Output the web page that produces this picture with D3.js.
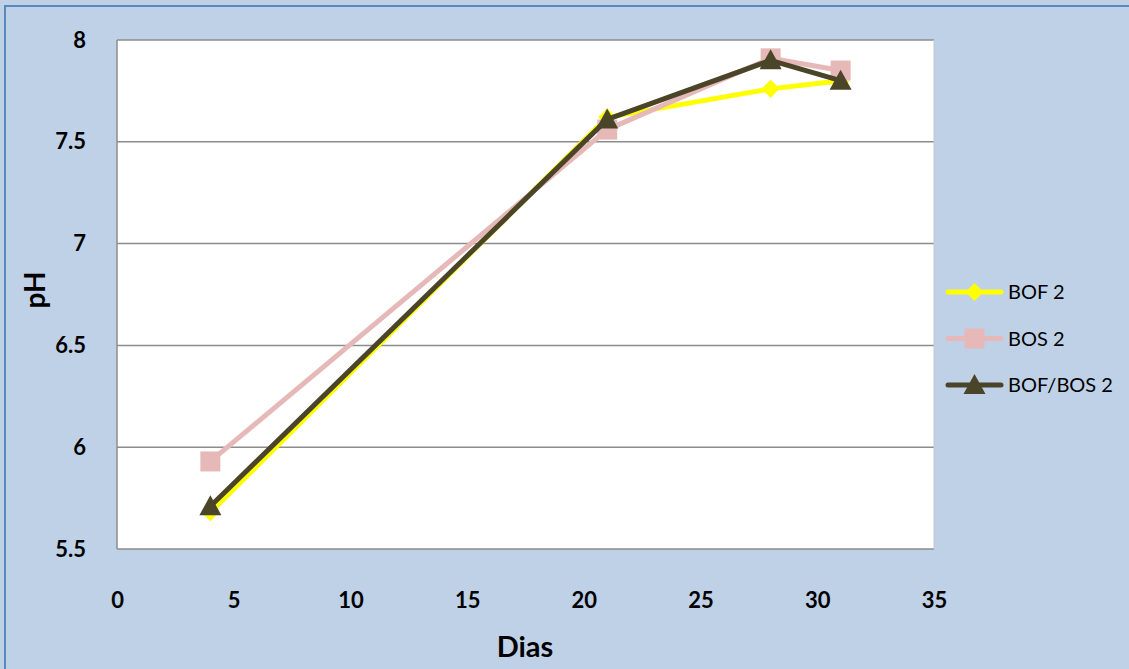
<!DOCTYPE html>
<html>
<head>
<meta charset="utf-8">
<script src="https://cdn.jsdelivr.net/npm/d3@7/dist/d3.min.js"></script>
<style>
  html, body { margin: 0; padding: 0; background: #fff; }
  svg { display: block; }
  text { font-family: Lato, "Open Sans", "Liberation Sans", sans-serif; }
</style>
</head>
<body>
<svg id="chart" width="1129" height="669"></svg>
<script>
// Sampling days and measured pH per series
const days = [4, 21, 28, 31];
const bof2 = [5.68, 7.62, 7.76, 7.80];
const bos2 = [5.93, 7.56, 7.91, 7.85];
const bofBos2 = [5.71, 7.61, 7.90, 7.80];
const seriesNames = ["BOF 2", "BOS 2", "BOF/BOS 2"];
const xTicks = [0, 5, 10, 15, 20, 25, 30, 35];
const yTicks = [5.5, 6, 6.5, 7, 7.5, 8];

const series = [
  { name: seriesNames[0], values: bof2, color: "#FFFF00", marker: "diamond" },
  { name: seriesNames[1], values: bos2, color: "#E6B9B8", marker: "square" },
  { name: seriesNames[2], values: bofBos2, color: "#4A4429", marker: "triangle" }
];

const svg = d3.select("#chart");
const W = 1129, H = 669;
const plot = { left: 117, top: 40, right: 934, bottom: 549 };

// Chart background and outer frame
svg.append("rect").attr("x", 0).attr("y", 0).attr("width", W).attr("height", H).attr("fill", "#BFD1E6");
svg.append("rect").attr("x", 5).attr("y", 6).attr("width", W + 20).attr("height", H + 20)
  .attr("fill", "none").attr("stroke", "#5B87C2").attr("stroke-width", 2);

const x = d3.scaleLinear().domain([0, 35]).range([plot.left, plot.right]);
const y = d3.scaleLinear().domain([5.5, 8]).range([plot.bottom, plot.top]);

// Plot area
svg.append("rect").attr("x", plot.left).attr("y", plot.top)
  .attr("width", plot.right - plot.left).attr("height", plot.bottom - plot.top)
  .attr("fill", "#fff");

// Horizontal gridlines
svg.append("g").selectAll("line").data(yTicks).join("line")
  .attr("x1", plot.left).attr("x2", plot.right)
  .attr("y1", d => y(d)).attr("y2", d => y(d))
  .attr("stroke", "#8C8C8C").attr("stroke-width", 1.5);

// Plot border
svg.append("line").attr("x1", plot.left).attr("x2", plot.left).attr("y1", plot.top).attr("y2", plot.bottom)
  .attr("stroke", "#8C8C8C").attr("stroke-width", 1.5);
svg.append("line").attr("x1", plot.right).attr("x2", plot.right).attr("y1", plot.top).attr("y2", plot.bottom)
  .attr("stroke", "#C8C8C8").attr("stroke-width", 1);

// Axes (labels only, no domain/ticks)
const yAxis = svg.append("g").attr("transform", `translate(${plot.left - 28},0)`)
  .call(d3.axisLeft(y).tickValues(yTicks).tickSize(0).tickFormat(d3.format("")));
yAxis.select(".domain").remove();
yAxis.selectAll("text").attr("font-size", 22).attr("font-weight", "bold").attr("fill", "#000")
  .attr("font-family", "Lato, 'Open Sans', sans-serif");

const xAxis = svg.append("g").attr("transform", `translate(0,${plot.bottom + 40})`)
  .call(d3.axisBottom(x).tickValues(xTicks).tickSize(0).tickFormat(d3.format("")));
xAxis.select(".domain").remove();
xAxis.selectAll("text").attr("font-size", 22).attr("font-weight", "bold").attr("fill", "#000")
  .attr("font-family", "Lato, 'Open Sans', sans-serif");

// Axis titles
svg.append("text").attr("x", 525).attr("y", 657).attr("text-anchor", "middle")
  .attr("font-size", 29).attr("font-weight", "bold").text("Dias");
svg.append("text").attr("transform", "translate(45,290) rotate(-90)").attr("text-anchor", "middle")
  .attr("font-size", 28).attr("font-weight", "bold").text("pH");

// Marker shapes
function markerPath(type) {
  if (type === "diamond") return "M0,-9L9,0L0,9L-9,0Z";
  if (type === "square") return "M-10,-10H10V10H-10Z";
  return "M0,-11L11,9H-11Z";
}

const line = d3.line().x(d => x(d[0])).y(d => y(d[1]));

series.forEach(s => {
  const pts = days.map((d, i) => [d, s.values[i]]);
  const g = svg.append("g");
  g.append("path").datum(pts).attr("d", line)
    .attr("fill", "none").attr("stroke", s.color).attr("stroke-width", 5)
    .attr("stroke-linejoin", "round");
  g.selectAll("path.m").data(pts).join("path").attr("class", "m")
    .attr("transform", d => `translate(${x(d[0])},${y(d[1])})`)
    .attr("d", markerPath(s.marker)).attr("fill", s.color);
});

// Legend
const legend = svg.append("g");
series.forEach((s, i) => {
  const ly = 292 + i * 46.5;
  const g = legend.append("g").attr("transform", `translate(0,${ly})`);
  g.append("line").attr("x1", 948).attr("x2", 1001).attr("y1", 0).attr("y2", 0)
    .attr("stroke", s.color).attr("stroke-width", 5).attr("stroke-linecap", "round");
  g.append("path").attr("transform", "translate(974.5,0)").attr("d", markerPath(s.marker)).attr("fill", s.color);
  g.append("text").attr("x", 1008).attr("y", 7).attr("font-size", 20).attr("fill", "#000").text(s.name);
});
</script>
</body>
</html>
